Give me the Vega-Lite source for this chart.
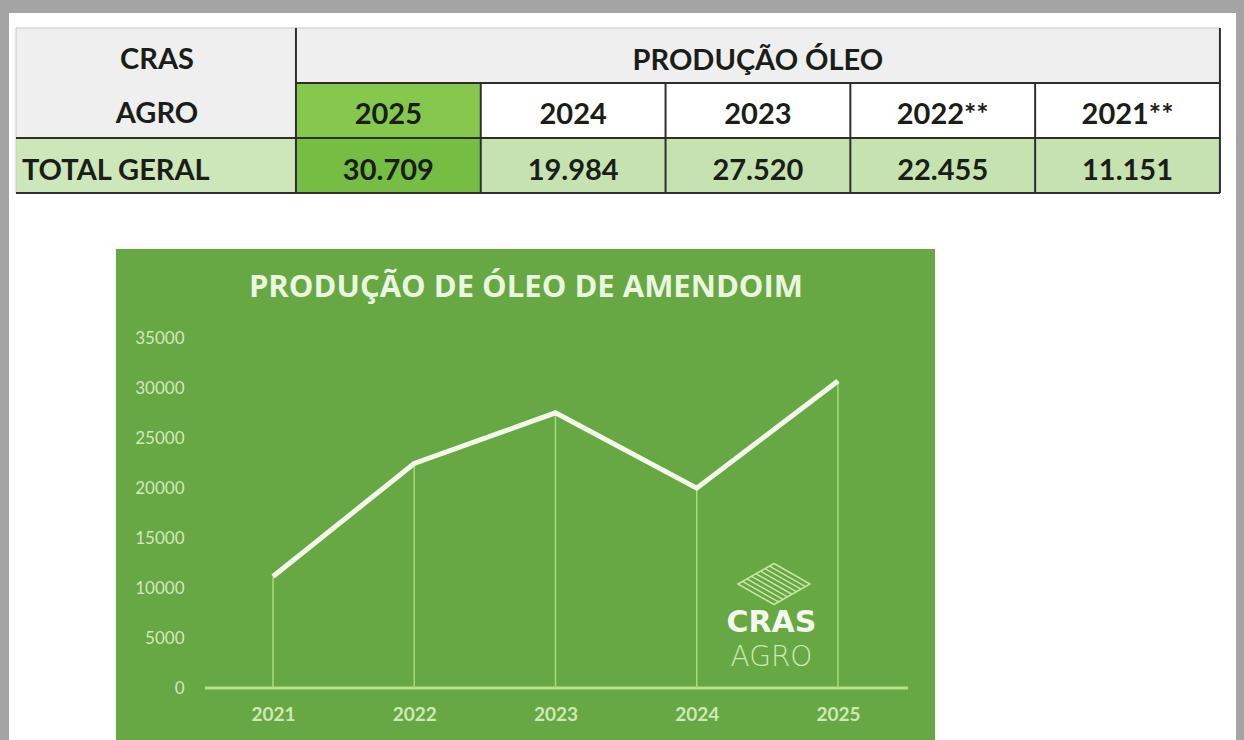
{
  "$schema": "https://vega.github.io/schema/vega-lite/v6.json",
  "width": 1244,
  "height": 740,
  "autosize": {"type": "fit", "contains": "padding"},
  "padding": {"left": 9, "top": 13, "right": 8, "bottom": 0},
  "background": "#a4a4a4",
  "config": {"view": {"fill": "#ffffff", "stroke": null}},
  "datasets": {
    "cells": [
      {"text": "CRAS", "kind": "gray", "c0": 0, "c1": 1.515, "r0": 0, "r1": 1, "cx": 0.763, "rm": 0.58},
      {"text": "AGRO", "kind": "gray", "c0": 0, "c1": 1.515, "r0": 1, "r1": 2, "cx": 0.763, "rm": 1.57},
      {"text": "PRODUÇÃO ÓLEO", "kind": "gray", "c0": 1.515, "c1": 6.515, "r0": 0, "r1": 1, "cx": 4.015, "rm": 0.6},
      {"text": "2025", "kind": "current", "c0": 1.515, "c1": 2.515, "r0": 1, "r1": 2, "cx": 2.015, "rm": 1.59},
      {"text": "2024", "kind": "year", "c0": 2.515, "c1": 3.515, "r0": 1, "r1": 2, "cx": 3.015, "rm": 1.59},
      {"text": "2023", "kind": "year", "c0": 3.515, "c1": 4.515, "r0": 1, "r1": 2, "cx": 4.015, "rm": 1.59},
      {"text": "2022**", "kind": "year", "c0": 4.515, "c1": 5.515, "r0": 1, "r1": 2, "cx": 5.015, "rm": 1.59},
      {"text": "2021**", "kind": "year", "c0": 5.515, "c1": 6.515, "r0": 1, "r1": 2, "cx": 6.015, "rm": 1.59},
      {"text": "30.709", "kind": "currentvalue", "c0": 1.515, "c1": 2.515, "r0": 2, "r1": 3, "cx": 2.015, "rm": 2.6},
      {"text": "19.984", "kind": "value", "c0": 2.515, "c1": 3.515, "r0": 2, "r1": 3, "cx": 3.015, "rm": 2.6},
      {"text": "27.520", "kind": "value", "c0": 3.515, "c1": 4.515, "r0": 2, "r1": 3, "cx": 4.015, "rm": 2.6},
      {"text": "22.455", "kind": "value", "c0": 4.515, "c1": 5.515, "r0": 2, "r1": 3, "cx": 5.015, "rm": 2.6},
      {"text": "11.151", "kind": "value", "c0": 5.515, "c1": 6.515, "r0": 2, "r1": 3, "cx": 6.015, "rm": 2.6},
      {"text": "TOTAL GERAL", "kind": "total", "c0": 0, "c1": 1.515, "r0": 2, "r1": 3, "cx": 0.032, "rm": 2.6}
    ],
    "borders": [
      {"tone": "dark", "x0": 1.515, "x1": 6.515, "y0": 1, "y1": 1},
      {"tone": "dark", "x0": 0, "x1": 6.515, "y0": 2, "y1": 2},
      {"tone": "dark", "x0": 0, "x1": 6.515, "y0": 3, "y1": 3},
      {"tone": "dark", "x0": 1.515, "x1": 1.515, "y0": 0, "y1": 3},
      {"tone": "dark", "x0": 2.515, "x1": 2.515, "y0": 1, "y1": 3},
      {"tone": "dark", "x0": 3.515, "x1": 3.515, "y0": 1, "y1": 3},
      {"tone": "dark", "x0": 4.515, "x1": 4.515, "y0": 1, "y1": 3},
      {"tone": "dark", "x0": 5.515, "x1": 5.515, "y0": 1, "y1": 3},
      {"tone": "dark", "x0": 6.515, "x1": 6.515, "y0": 0, "y1": 3},
      {"tone": "light", "x0": 0, "x1": 6.515, "y0": 0, "y1": 0},
      {"tone": "light", "x0": 0, "x1": 0, "y0": 0, "y1": 3}
    ],
    "series": [
      {"year": 2021, "value": 11151},
      {"year": 2022, "value": 22455},
      {"year": 2023, "value": 27520},
      {"year": 2024, "value": 19984},
      {"year": 2025, "value": 30709}
    ],
    "one": [{"title": "PRODUÇÃO DE ÓLEO DE AMENDOIM", "brand": "CRAS", "sub": "AGRO"}]
  },
  "layer": [
    {
      "data": {"name": "cells"},
      "layer": [
        {
          "mark": {"type": "rect"},
          "encoding": {
            "x": {"field": "c0", "type": "quantitative", "scale": {"domain": [-0.0379, 6.602], "nice": false, "zero": false}, "axis": null},
            "x2": {"field": "c1"},
            "y": {"field": "r0", "type": "quantitative", "scale": {"domain": [-0.2727, 12.945], "reverse": true, "nice": false, "zero": false}, "axis": null},
            "y2": {"field": "r1"},
            "color": {"field": "kind", "type": "nominal", "legend": null,
              "scale": {"domain": ["gray", "current", "year", "total", "currentvalue", "value"],
                        "range": ["#efefef", "#86c84e", "#ffffff", "#cde6ba", "#76bd44", "#c6e2b1"]}}
          }
        },
        {
          "data": {"name": "borders"},
          "transform": [{"filter": "datum.tone === 'light'"}],
          "mark": {"type": "rule", "color": "#c8c8c8", "strokeWidth": 1},
          "encoding": {
            "x": {"field": "x0", "type": "quantitative", "axis": null},
            "x2": {"field": "x1"},
            "y": {"field": "y0", "type": "quantitative", "axis": null},
            "y2": {"field": "y1"}
          }
        },
        {
          "data": {"name": "borders"},
          "transform": [{"filter": "datum.tone === 'dark'"}],
          "mark": {"type": "rule", "color": "#2e2e2e", "strokeWidth": 2},
          "encoding": {
            "x": {"field": "x0", "type": "quantitative", "axis": null},
            "x2": {"field": "x1"},
            "y": {"field": "y0", "type": "quantitative", "axis": null},
            "y2": {"field": "y1"}
          }
        },
        {
          "transform": [{"filter": "datum.kind !== 'total'"}],
          "mark": {"type": "text", "font": "Lato", "fontWeight": "bold", "fontSize": 29, "color": "#1a1d18", "align": "center", "baseline": "middle"},
          "encoding": {
            "x": {"field": "cx", "type": "quantitative", "axis": null},
            "y": {"field": "rm", "type": "quantitative", "axis": null},
            "text": {"field": "text"}
          }
        },
        {
          "transform": [{"filter": "datum.kind === 'total'"}],
          "mark": {"type": "text", "font": "Lato", "fontWeight": "bold", "fontSize": 29, "color": "#1a1d18", "align": "left", "baseline": "middle"},
          "encoding": {
            "x": {"field": "cx", "type": "quantitative", "axis": null},
            "y": {"field": "rm", "type": "quantitative", "axis": null},
            "text": {"field": "text"}
          }
        }
      ]
    },
    {
      "data": {"name": "series"},
      "layer": [
        {
          "data": {"name": "one"},
          "mark": {"type": "rect", "color": "#67a744"},
          "encoding": {
            "x": {"datum": 2019.888, "type": "quantitative", "scale": {"domain": [2019.131, 2027.818], "nice": false, "zero": false},
              "axis": {"orient": "bottom", "offset": -35, "zindex": 2, "values": [2021, 2022, 2023, 2024, 2025], "format": "d", "domain": false, "ticks": false, "grid": false, "labelPadding": 0, "labelFont": "Lato", "labelFontSize": 19, "labelFontWeight": "bold", "labelColor": "#cfe9b6", "labelFlush": false, "labelOverlap": false, "title": null}},
            "x2": {"datum": 2025.687},
            "y": {"datum": 43900, "type": "quantitative", "scale": {"domain": [-5200, 67500], "nice": false, "zero": false},
              "axis": {"orient": "left", "offset": -175, "zindex": 2, "values": [0, 5000, 10000, 15000, 20000, 25000, 30000, 35000], "format": "d", "domain": false, "ticks": false, "grid": false, "labelPadding": 0, "labelFont": "Lato", "labelFontSize": 17, "labelColor": "#d2e9bd", "labelFlush": false, "labelOverlap": false, "title": null}},
            "y2": {"datum": -5200}
          }
        },
        {
          "data": {"name": "one"},
          "mark": {"type": "rule", "color": "#b6e28a", "strokeWidth": 3},
          "encoding": {
            "x": {"datum": 2020.519, "type": "quantitative"},
            "x2": {"datum": 2025.496},
            "y": {"datum": 0, "type": "quantitative"}
          }
        },
        {
          "mark": {"type": "rule", "color": "#a8dc76", "strokeWidth": 1.5},
          "encoding": {
            "x": {"field": "year", "type": "quantitative"},
            "y": {"field": "value", "type": "quantitative"},
            "y2": {"datum": 0}
          }
        },
        {
          "mark": {"type": "line", "color": "#f3f8ea", "strokeWidth": 5},
          "encoding": {
            "x": {"field": "year", "type": "quantitative"},
            "y": {"field": "value", "type": "quantitative"}
          }
        },
        {
          "data": {"name": "one"},
          "mark": {"type": "text", "font": "Open Sans", "fontWeight": "bold", "fontSize": 31, "color": "#eaf6de", "align": "center", "baseline": "alphabetic"},
          "encoding": {
            "x": {"datum": 2022.791, "type": "quantitative"},
            "y": {"datum": 39100, "type": "quantitative"},
            "text": {"field": "title"}
          }
        },
        {
          "data": {"name": "one"},
          "mark": {"type": "point", "filled": false, "color": "#c6e6a4", "strokeWidth": 1.5, "opacity": 1, "size": 5184,
            "shape": "M-1,0L0,-0.57L1,0L0,0.57Z M-0.875,-0.071L0.125,0.499 M-0.75,-0.1425L0.25,0.4275 M-0.625,-0.214L0.375,0.356 M-0.5,-0.285L0.5,0.285 M-0.375,-0.356L0.625,0.214 M-0.25,-0.4275L0.75,0.1425 M-0.125,-0.499L0.875,0.071"},
          "encoding": {
            "x": {"datum": 2024.547, "type": "quantitative"},
            "y": {"datum": 10400, "type": "quantitative"}
          }
        },
        {
          "data": {"name": "one"},
          "mark": {"type": "text", "font": "DejaVu Sans", "fontWeight": "bold", "fontSize": 30, "color": "#f4f9ee", "align": "center", "baseline": "alphabetic"},
          "encoding": {
            "x": {"datum": 2024.529, "type": "quantitative"},
            "y": {"datum": 5600, "type": "quantitative"},
            "text": {"field": "brand"}
          }
        },
        {
          "data": {"name": "one"},
          "mark": {"type": "text", "font": "DejaVu Sans", "fontWeight": 200, "fontSize": 28, "color": "#cdeab0", "align": "center", "baseline": "alphabetic"},
          "encoding": {
            "x": {"datum": 2024.529, "type": "quantitative"},
            "y": {"datum": 2200, "type": "quantitative"},
            "text": {"field": "sub"}
          }
        }
      ]
    }
  ],
  "resolve": {"scale": {"x": "independent", "y": "independent", "color": "independent"}, "axis": {"x": "independent", "y": "independent"}}
}
